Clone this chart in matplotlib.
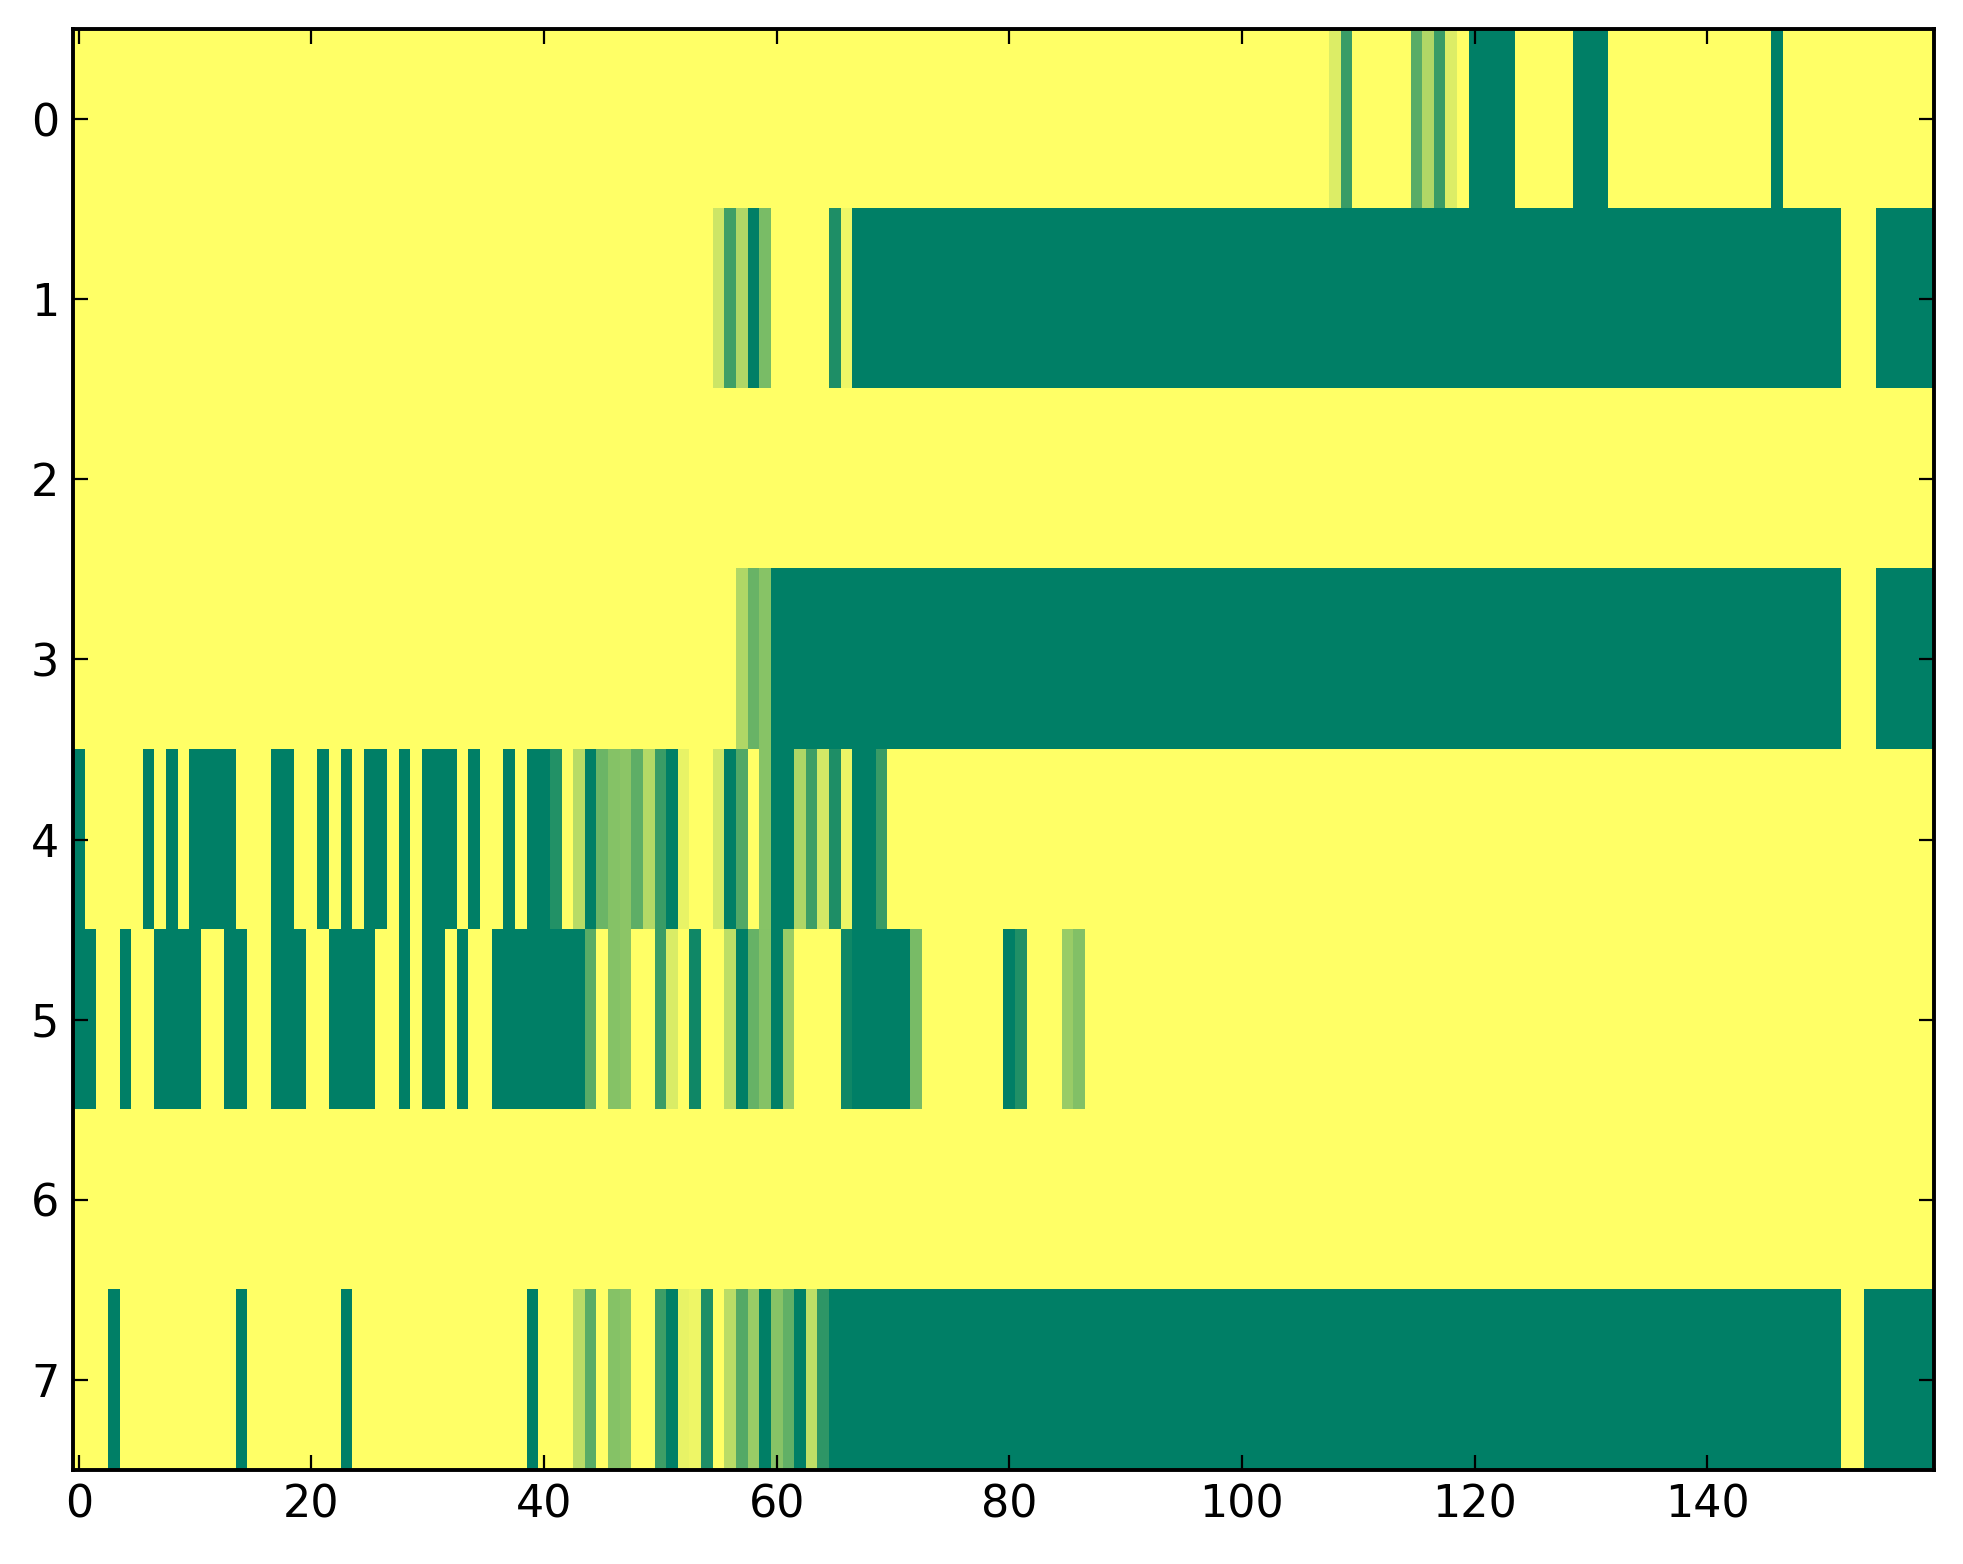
import numpy as np
import matplotlib
matplotlib.use("Agg")
import matplotlib.pyplot as plt

# one list per row, 160 columns each (0 = yellow, 1 = dark green)
row_0 = [0, 0, 0, 0, 0, 0, 0, 0, 0, 0, 0, 0, 0, 0, 0, 0, 0, 0, 0, 0,
         0, 0, 0, 0, 0, 0, 0, 0, 0, 0, 0, 0, 0, 0, 0, 0, 0, 0, 0, 0,
         0, 0, 0, 0, 0, 0, 0, 0, 0, 0, 0, 0, 0, 0, 0, 0, 0, 0, 0, 0,
         0, 0, 0, 0, 0, 0, 0, 0, 0, 0, 0, 0, 0, 0, 0, 0, 0, 0, 0, 0,
         0, 0, 0, 0, 0, 0, 0, 0, 0, 0, 0, 0, 0, 0, 0, 0, 0, 0, 0, 0,
         0, 0, 0, 0, 0, 0, 0, 0, .14, .77, 0, 0, 0, 0, 0, .65, .31, .77, .14, 0,
         1, 1, 1, 1, 0, 0, 0, 0, 0, 1, 1, 1, 0, 0, 0, 0, 0, 0, 0, 0,
         0, 0, 0, 0, 0, 0, 1, 0, 0, 0, 0, 0, 0, 0, 0, 0, 0, 0, 0, 0]

row_1 = [0, 0, 0, 0, 0, 0, 0, 0, 0, 0, 0, 0, 0, 0, 0, 0, 0, 0, 0, 0,
         0, 0, 0, 0, 0, 0, 0, 0, 0, 0, 0, 0, 0, 0, 0, 0, 0, 0, 0, 0,
         0, 0, 0, 0, 0, 0, 0, 0, 0, 0, 0, 0, 0, 0, 0, .2, .75, .31, 1, .52,
         0, 0, 0, 0, 0, .88, .07, 1, 1, 1, 1, 1, 1, 1, 1, 1, 1, 1, 1, 1,
         1, 1, 1, 1, 1, 1, 1, 1, 1, 1, 1, 1, 1, 1, 1, 1, 1, 1, 1, 1,
         1, 1, 1, 1, 1, 1, 1, 1, 1, 1, 1, 1, 1, 1, 1, 1, 1, 1, 1, 1,
         1, 1, 1, 1, 1, 1, 1, 1, 1, 1, 1, 1, 1, 1, 1, 1, 1, 1, 1, 1,
         1, 1, 1, 1, 1, 1, 1, 1, 1, 1, 1, 1, 0, 0, 0, 1, 1, 1, 1, 1]

row_2 = [0, 0, 0, 0, 0, 0, 0, 0, 0, 0, 0, 0, 0, 0, 0, 0, 0, 0, 0, 0,
         0, 0, 0, 0, 0, 0, 0, 0, 0, 0, 0, 0, 0, 0, 0, 0, 0, 0, 0, 0,
         0, 0, 0, 0, 0, 0, 0, 0, 0, 0, 0, 0, 0, 0, 0, 0, 0, 0, 0, 0,
         0, 0, 0, 0, 0, 0, 0, 0, 0, 0, 0, 0, 0, 0, 0, 0, 0, 0, 0, 0,
         0, 0, 0, 0, 0, 0, 0, 0, 0, 0, 0, 0, 0, 0, 0, 0, 0, 0, 0, 0,
         0, 0, 0, 0, 0, 0, 0, 0, 0, 0, 0, 0, 0, 0, 0, 0, 0, 0, 0, 0,
         0, 0, 0, 0, 0, 0, 0, 0, 0, 0, 0, 0, 0, 0, 0, 0, 0, 0, 0, 0,
         0, 0, 0, 0, 0, 0, 0, 0, 0, 0, 0, 0, 0, 0, 0, 0, 0, 0, 0, 0]

row_3 = [0, 0, 0, 0, 0, 0, 0, 0, 0, 0, 0, 0, 0, 0, 0, 0, 0, 0, 0, 0,
         0, 0, 0, 0, 0, 0, 0, 0, 0, 0, 0, 0, 0, 0, 0, 0, 0, 0, 0, 0,
         0, 0, 0, 0, 0, 0, 0, 0, 0, 0, 0, 0, 0, 0, 0, 0, 0, .31, .59, .47,
         1, 1, 1, 1, 1, 1, 1, 1, 1, 1, 1, 1, 1, 1, 1, 1, 1, 1, 1, 1,
         1, 1, 1, 1, 1, 1, 1, 1, 1, 1, 1, 1, 1, 1, 1, 1, 1, 1, 1, 1,
         1, 1, 1, 1, 1, 1, 1, 1, 1, 1, 1, 1, 1, 1, 1, 1, 1, 1, 1, 1,
         1, 1, 1, 1, 1, 1, 1, 1, 1, 1, 1, 1, 1, 1, 1, 1, 1, 1, 1, 1,
         1, 1, 1, 1, 1, 1, 1, 1, 1, 1, 1, 1, 0, 0, 0, 1, 1, 1, 1, 1]

row_4 = [1, 0, 0, 0, 0, 0, 1, 0, 1, 0, 1, 1, 1, 1, 0, 0, 0, 1, 1, 0,
         0, 1, 0, 1, 0, 1, 1, 0, 1, 0, 1, 1, 1, 0, 1, 0, 0, 1, 0, 1,
         1, .86, 0, .28, 1, .58, .48, .45, .63, .3, .77, 1, .09, 0, 0, .18, 1, .68, 0, .47,
         1, 1, .32, .76, .17, .88, .08, 1, 1, .78, 0, 0, 0, 0, 0, 0, 0, 0, 0, 0,
         0, 0, 0, 0, 0, 0, 0, 0, 0, 0, 0, 0, 0, 0, 0, 0, 0, 0, 0, 0,
         0, 0, 0, 0, 0, 0, 0, 0, 0, 0, 0, 0, 0, 0, 0, 0, 0, 0, 0, 0,
         0, 0, 0, 0, 0, 0, 0, 0, 0, 0, 0, 0, 0, 0, 0, 0, 0, 0, 0, 0,
         0, 0, 0, 0, 0, 0, 0, 0, 0, 0, 0, 0, 0, 0, 0, 0, 0, 0, 0, 0]

row_5 = [1, 1, 0, 0, 1, 0, 0, 1, 1, 1, 1, 0, 0, 1, 1, 0, 0, 1, 1, 1,
         0, 0, 1, 1, 1, 1, 0, 0, 1, 0, 1, 1, 0, 1, 0, 0, 1, 1, 1, 1,
         1, 1, 1, 1, .65, 0, .48, .45, 0, 0, .77, .15, 0, .94, 0, 0, .26, 1, .6, .48,
         1, .4, 0, 0, 0, 0, .94, 1, 1, 1, 1, 1, .53, 0, 0, 0, 0, 0, 0, 0,
         1, .87, 0, 0, 0, .4, .49, 0, 0, 0, 0, 0, 0, 0, 0, 0, 0, 0, 0, 0,
         0, 0, 0, 0, 0, 0, 0, 0, 0, 0, 0, 0, 0, 0, 0, 0, 0, 0, 0, 0,
         0, 0, 0, 0, 0, 0, 0, 0, 0, 0, 0, 0, 0, 0, 0, 0, 0, 0, 0, 0,
         0, 0, 0, 0, 0, 0, 0, 0, 0, 0, 0, 0, 0, 0, 0, 0, 0, 0, 0, 0]

row_6 = [0, 0, 0, 0, 0, 0, 0, 0, 0, 0, 0, 0, 0, 0, 0, 0, 0, 0, 0, 0,
         0, 0, 0, 0, 0, 0, 0, 0, 0, 0, 0, 0, 0, 0, 0, 0, 0, 0, 0, 0,
         0, 0, 0, 0, 0, 0, 0, 0, 0, 0, 0, 0, 0, 0, 0, 0, 0, 0, 0, 0,
         0, 0, 0, 0, 0, 0, 0, 0, 0, 0, 0, 0, 0, 0, 0, 0, 0, 0, 0, 0,
         0, 0, 0, 0, 0, 0, 0, 0, 0, 0, 0, 0, 0, 0, 0, 0, 0, 0, 0, 0,
         0, 0, 0, 0, 0, 0, 0, 0, 0, 0, 0, 0, 0, 0, 0, 0, 0, 0, 0, 0,
         0, 0, 0, 0, 0, 0, 0, 0, 0, 0, 0, 0, 0, 0, 0, 0, 0, 0, 0, 0,
         0, 0, 0, 0, 0, 0, 0, 0, 0, 0, 0, 0, 0, 0, 0, 0, 0, 0, 0, 0]

row_7 = [0, 0, 0, 1, 0, 0, 0, 0, 0, 0, 0, 0, 0, 0, 1, 0, 0, 0, 0, 0,
         0, 0, 0, 1, 0, 0, 0, 0, 0, 0, 0, 0, 0, 0, 0, 0, 0, 0, 0, 1,
         0, 0, 0, .27, .65, 0, .48, .45, 0, 0, .76, 1, .09, .07, .88, 0, .27, .67, .4, 1,
         .47, .62, 1, .25, .82, 1, 1, 1, 1, 1, 1, 1, 1, 1, 1, 1, 1, 1, 1, 1,
         1, 1, 1, 1, 1, 1, 1, 1, 1, 1, 1, 1, 1, 1, 1, 1, 1, 1, 1, 1,
         1, 1, 1, 1, 1, 1, 1, 1, 1, 1, 1, 1, 1, 1, 1, 1, 1, 1, 1, 1,
         1, 1, 1, 1, 1, 1, 1, 1, 1, 1, 1, 1, 1, 1, 1, 1, 1, 1, 1, 1,
         1, 1, 1, 1, 1, 1, 1, 1, 1, 1, 1, 1, 0, 0, 1, 1, 1, 1, 1, 1]

xticks = [0, 20, 40, 60, 80, 100, 120, 140]
yticks = [0, 1, 2, 3, 4, 5, 6, 7]

data = np.array([row_0, row_1, row_2, row_3, row_4, row_5, row_6, row_7], dtype=float)

fig = plt.figure(figsize=(9.815, 7.82), dpi=200)
ax = fig.add_axes([0.0372, 0.0601, 0.948, 0.9214])
ax.imshow(data, cmap="summer_r", vmin=0, vmax=1, aspect="auto", interpolation="nearest")

ax.set_xticks(xticks)
ax.set_yticks(yticks)
ax.set_xlim(-0.5, 159.5)
ax.set_ylim(7.5, -0.5)
ax.tick_params(direction="in", top=True, right=True, length=5.3, width=0.8,
               labelsize=16, colors="black", pad=5)
for s in ax.spines.values():
    s.set_linewidth(1.4)

fig.savefig("out.png", dpi=200)
